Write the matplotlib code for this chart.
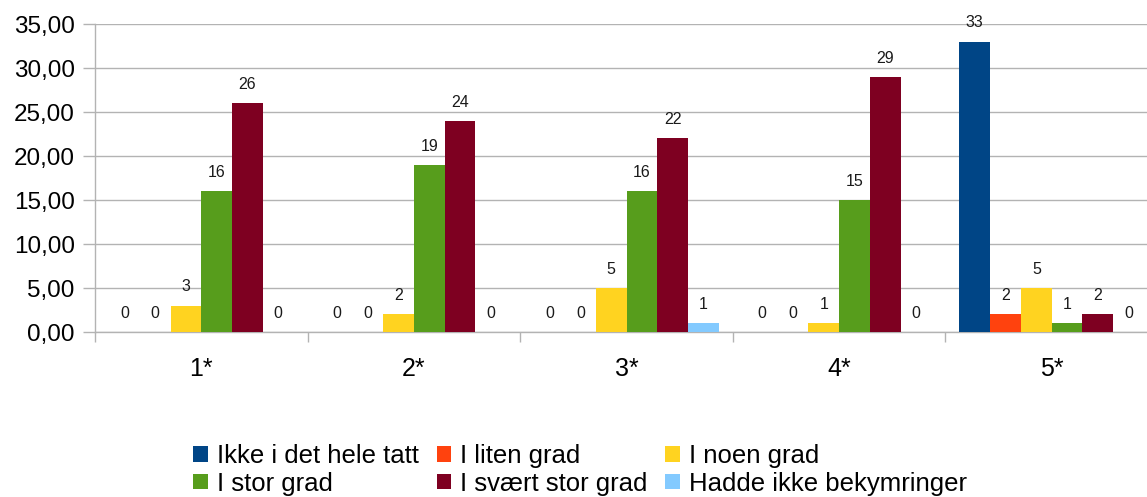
import matplotlib
matplotlib.use("Agg")
import matplotlib.pyplot as plt
import numpy as np
from matplotlib.ticker import FuncFormatter, FixedLocator

plt.rcParams['font.family'] = ['Liberation Sans', 'DejaVu Sans']

categories = ["1*", "2*", "3*", "4*", "5*"]
series_names = ["Ikke i det hele tatt", "I liten grad", "I noen grad",
                "I stor grad", "I svært stor grad", "Hadde ikke bekymringer"]
ikke = [0, 0, 0, 0, 33]
liten = [0, 0, 0, 0, 2]
noen = [3, 2, 5, 1, 5]
stor = [16, 19, 16, 15, 1]
svaert = [26, 24, 22, 29, 2]
hadde = [0, 0, 1, 0, 0]
series = [ikke, liten, noen, stor, svaert, hadde]
colors = ["#004586", "#ff420e", "#ffd320", "#579d1c", "#7e0021", "#83caff"]

W, H = 1147, 497
fig = plt.figure(figsize=(W / 100, H / 100), dpi=100)
left, right, top, bottom = 95, 1158, 24, 332
ax = fig.add_axes([left / W, 1 - bottom / H, (right - left) / W, (bottom - top) / H])

x = np.arange(len(categories))
bw = 0.1447
n = len(series)
handles = []
for i, (vals, c, name) in enumerate(zip(series, colors, series_names)):
    pos = x - n * bw / 2 + bw * (i + 0.5)
    bars = ax.bar(pos, vals, width=bw, color=c, label=name, zorder=3)
    ax.bar_label(bars, labels=[str(v) for v in vals], padding=8, fontsize=11.5, color='#1a1a1a')
    handles.append(bars)

ax.set_xlim(-0.5, len(categories) - 0.5)
ax.set_ylim(0, 35)
ax.set_yticks(np.arange(0, 36, 5))
ax.yaxis.set_major_formatter(FuncFormatter(lambda v, p: f"{v:.2f}".replace('.', ',')))
ax.set_xticks(x)
ax.set_xticklabels(categories, fontsize=18)
ax.xaxis.set_minor_locator(FixedLocator(np.arange(-0.5, len(categories), 1.0)))
ax.tick_params(axis='x', which='major', length=0, pad=18)
ax.tick_params(axis='x', which='minor', length=7.5, width=1, color='#b3b3b3')
ax.tick_params(axis='y', length=8.5, width=1, color='#b3b3b3', pad=6, labelsize=17.5)
ax.grid(axis='y', color='#b3b3b3', linewidth=1, zorder=0)
for s in ['top', 'right']:
    ax.spines[s].set_visible(False)
for s in ['left', 'bottom']:
    ax.spines[s].set_color('#b3b3b3')
    ax.spines[s].set_linewidth(1)

order = [0, 3, 1, 4, 2, 5]
fig.legend([handles[i] for i in order], [series_names[i] for i in order],
           ncol=3, loc='center', bbox_to_anchor=(580 / W, 1 - 470 / H),
           frameon=False, fontsize=18.5, handlelength=0.57, handleheight=0.57,
           handletextpad=0.34, columnspacing=0.7, labelspacing=0.12, borderpad=0)

fig.savefig("out.png", dpi=100)
